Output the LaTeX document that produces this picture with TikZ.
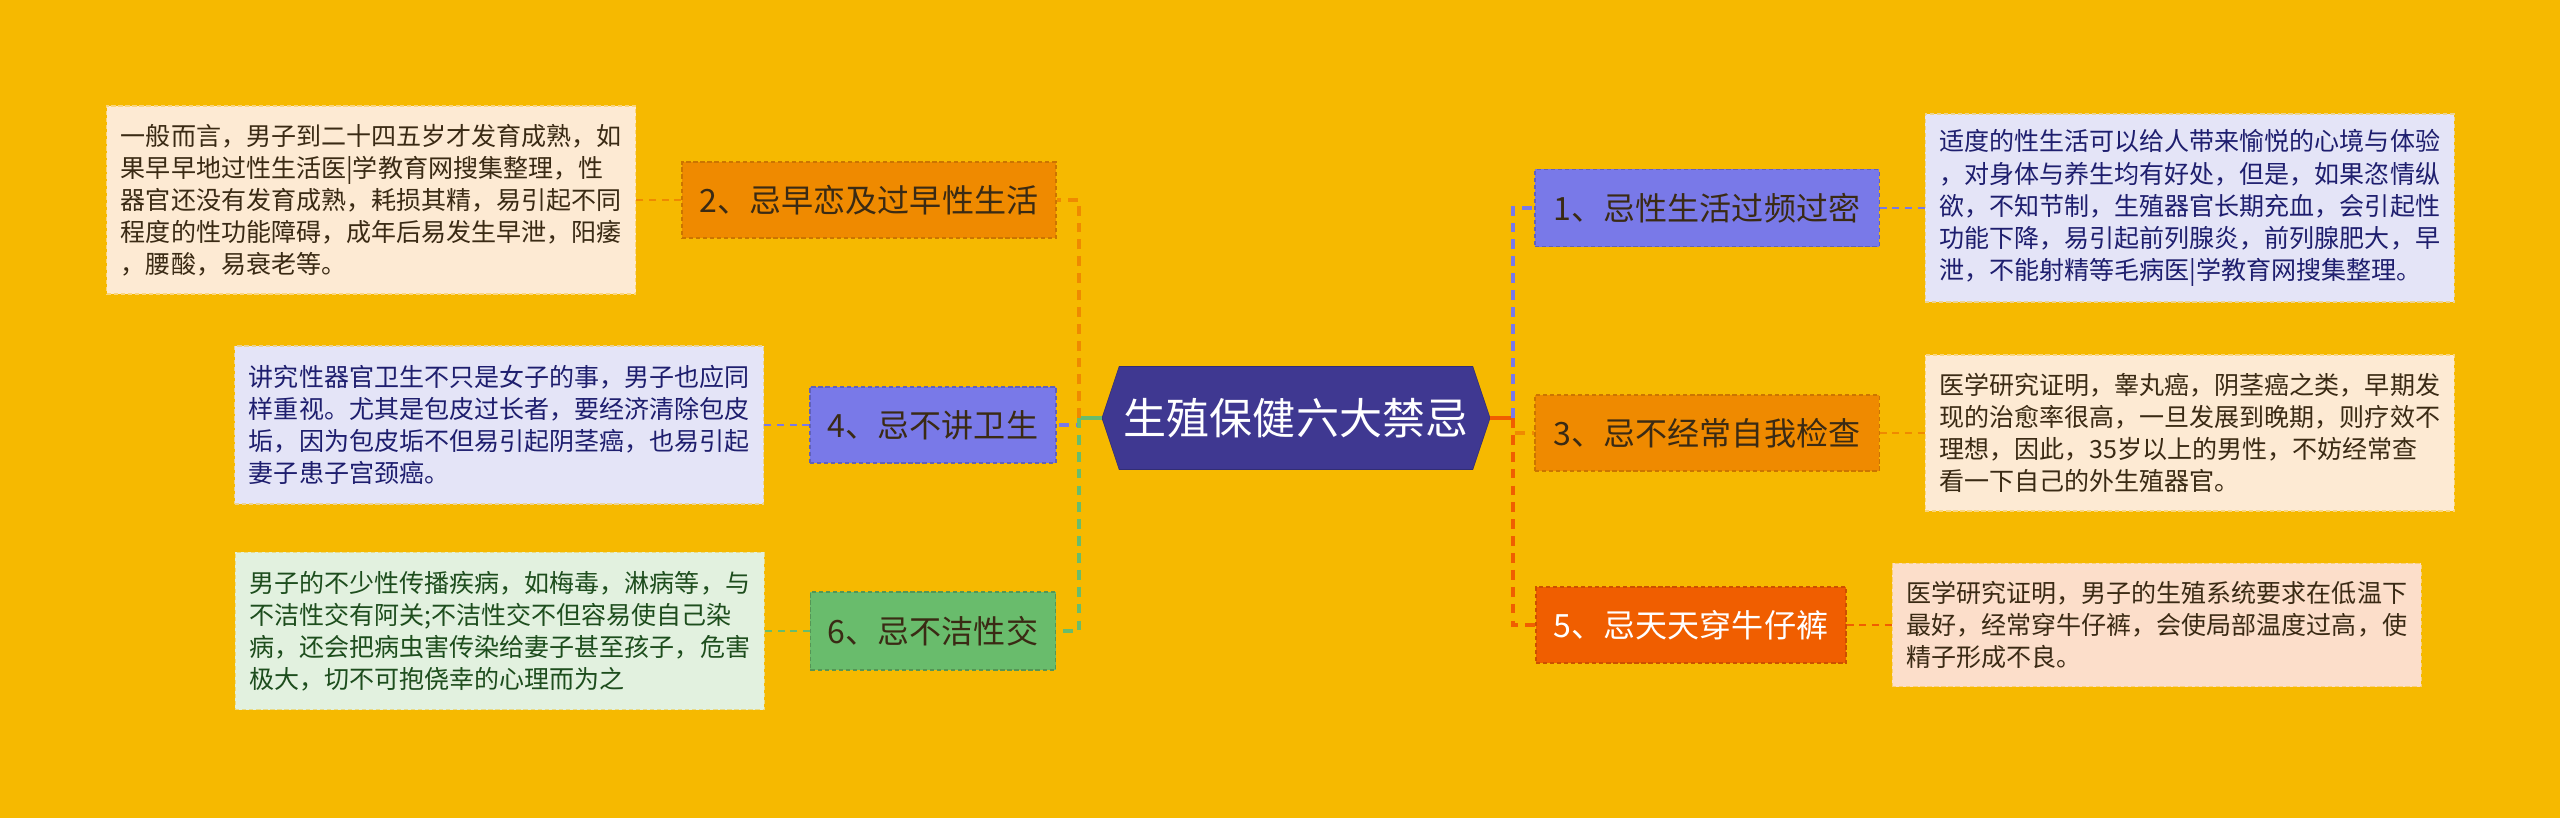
\documentclass[tikz,border=0pt]{standalone}
\usepackage{fontspec}
\setmainfont{Noto Sans CJK SC}
\usetikzlibrary{shapes.symbols, positioning}
\usepackage{xcolor}
\definecolor{bgGold}{HTML}{F6B900}
\definecolor{hubFill}{HTML}{3F3891}
\definecolor{tOrange}{HTML}{EF8A00}
\definecolor{tBlue}{HTML}{7979E8}
\definecolor{tGreen}{HTML}{69BC6C}
\definecolor{tRed}{HTML}{F05E00}
\definecolor{txBrown}{HTML}{3A2A14}
\definecolor{txNavy}{HTML}{1E1E6E}
\definecolor{txGreen}{HTML}{1D4D1D}
\definecolor{fPeach}{HTML}{FDEAD3}
\definecolor{fLilac}{HTML}{E4E4F7}
\definecolor{fMint}{HTML}{E2F1DF}
\definecolor{fSalmon}{HTML}{FCDECA}
\tikzset{
    % Colors
    branchOrange/.style={draw=tOrange!85!black, fill=tOrange, text=txBrown},
    branchBlue/.style={draw=tBlue!80!black, fill=tBlue, text=txBrown},
    branchGreen/.style={draw=tGreen!80!black, fill=tGreen, text=txBrown},
    branchRed/.style={draw=tRed!85!black, fill=tRed, text=white},
    notePeach/.style={draw=bgGold!40!fPeach, fill=fPeach, text=txBrown},
    noteLilac/.style={draw=bgGold!40!fLilac, fill=fLilac, text=txNavy},
    noteMint/.style={draw=bgGold!40!fMint, fill=fMint, text=txGreen},
    noteSalmon/.style={draw=bgGold!40!fSalmon, fill=fSalmon, text=txBrown},
    % Shapes
    hub/.style={signal, signal to=west and east, signal pointer angle=143,
                fill=hubFill, draw=hubFill!80!black, text=white,
                minimum width=9.7cm, minimum height=2.575cm, inner sep=0pt,
                font=\fontsize{30.6}{36}\selectfont},
    branch/.style={rectangle, line width=0.8pt, dash pattern=on 3pt off 2pt,
                   minimum height=1.9cm, inner sep=0pt,
                   font=\fontsize{22.8}{27}\selectfont},
    note/.style={rectangle, line width=0.8pt, dash pattern=on 3pt off 2pt,
                 minimum width=13.225cm, align=left, inner sep=0pt,
                 font=\fontsize{17.8}{22.8}\selectfont},
    % Links
    stem/.style={line width=2.6pt},
    trunk/.style={line width=2.6pt, dash pattern=on 7pt off 5pt},
    twig/.style={line width=1.5pt, dash pattern=on 5pt off 4pt}
}
\begin{document}
\begin{tikzpicture}[x=0.025cm, y=-0.025cm, node distance=1.125cm]
\useasboundingbox[fill=bgGold] (0,0) rectangle (2560,818);

\node[hub] (hub) at (1296,418) {生殖保健六大禁忌};

% left branches
\node[branch, branchOrange, minimum width=9.35cm] (early) at (869,200) {2、忌早恋及过早性生活};
\node[branch, branchBlue, minimum width=6.15cm] (hygiene) at (933,425) {4、忌不讲卫生};
\node[branch, branchGreen, minimum width=6.125cm, minimum height=1.95cm] (unclean) at (933,631) {6、忌不洁性交};

% right branches
\node[branch, branchBlue, minimum width=8.6cm, minimum height=1.925cm] (often) at (1707,208) {1、忌性生活过频过密};
\node[branch, branchOrange, minimum width=8.6cm] (selfcheck) at (1707,433) {3、忌不经常自我检查};
\node[branch, branchRed, minimum width=7.75cm] (jeans) at (1691,625) {5、忌天天穿牛仔裤};

% notes
\node[note, notePeach, minimum height=4.7cm, left=of early] (earlyNote) {一般而言，男子到二十四五岁才发育成熟，如\\果早早地过性生活医|学教育网搜集整理，性\\器官还没有发育成熟，耗损其精，易引起不同\\程度的性功能障碍，成年后易发生早泄，阳痿\\，腰酸，易衰老等。};
\node[note, noteLilac, minimum height=3.95cm, left=of hygiene] (hygieneNote) {讲究性器官卫生不只是女子的事，男子也应同\\样重视。尤其是包皮过长者，要经济清除包皮\\垢，因为包皮垢不但易引起阴茎癌，也易引起\\妻子患子宫颈癌。};
\node[note, noteMint, minimum height=3.925cm, left=of unclean] (uncleanNote) {男子的不少性传播疾病，如梅毒，淋病等，与\\不洁性交有阿关;不洁性交不但容易使自己染\\病，还会把病虫害传染给妻子甚至孩子，危害\\极大，切不可抱侥幸的心理而为之};
\node[note, noteLilac, minimum height=4.7cm, right=of often] (oftenNote) {适度的性生活可以给人带来愉悦的心境与体验\\，对身体与养生均有好处，但是，如果恣情纵\\欲，不知节制，生殖器官长期充血，会引起性\\功能下降，易引起前列腺炎，前列腺肥大，早\\泄，不能射精等毛病医|学教育网搜集整理。};
\node[note, notePeach, minimum height=3.9cm, right=of selfcheck] (selfcheckNote) {医学研究证明，睾丸癌，阴茎癌之类，早期发\\现的治愈率很高，一旦发展到晚期，则疗效不\\理想，因此，35岁以上的男性，不妨经常查\\看一下自己的外生殖器官。};
\node[note, noteSalmon, minimum height=3.075cm, right=of jeans] (jeansNote) {医学研究证明，男子的生殖系统要求在低温下\\最好，经常穿牛仔裤，会使局部温度过高，使\\精子形成不良。};

% trunks
\coordinate (trunkL) at (1079,418);
\coordinate (trunkR) at (1513,418);
\draw[stem, tGreen] (hub.west) -- (trunkL);
\draw[stem, tRed] (hub.east) -- (trunkR);
\draw[trunk, tOrange] (trunkL) |- (early.east);
\draw[trunk, tBlue] (trunkL) |- (hygiene.east);
\draw[trunk, tGreen] (trunkL) |- (unclean.east);
\draw[trunk, tBlue] (trunkR) |- (often.west);
\draw[trunk, tOrange] (trunkR) |- (selfcheck.west);
\draw[trunk, tRed] (trunkR) |- (jeans.west);

% twigs
\draw[twig, tOrange] (early) -- (earlyNote);
\draw[twig, tBlue] (hygiene) -- (hygieneNote);
\draw[twig, tGreen] (unclean) -- (uncleanNote);
\draw[twig, tBlue] (often) -- (oftenNote);
\draw[twig, tOrange] (selfcheck) -- (selfcheckNote);
\draw[twig, tRed] (jeans) -- (jeansNote);

\end{tikzpicture}
\end{document}
